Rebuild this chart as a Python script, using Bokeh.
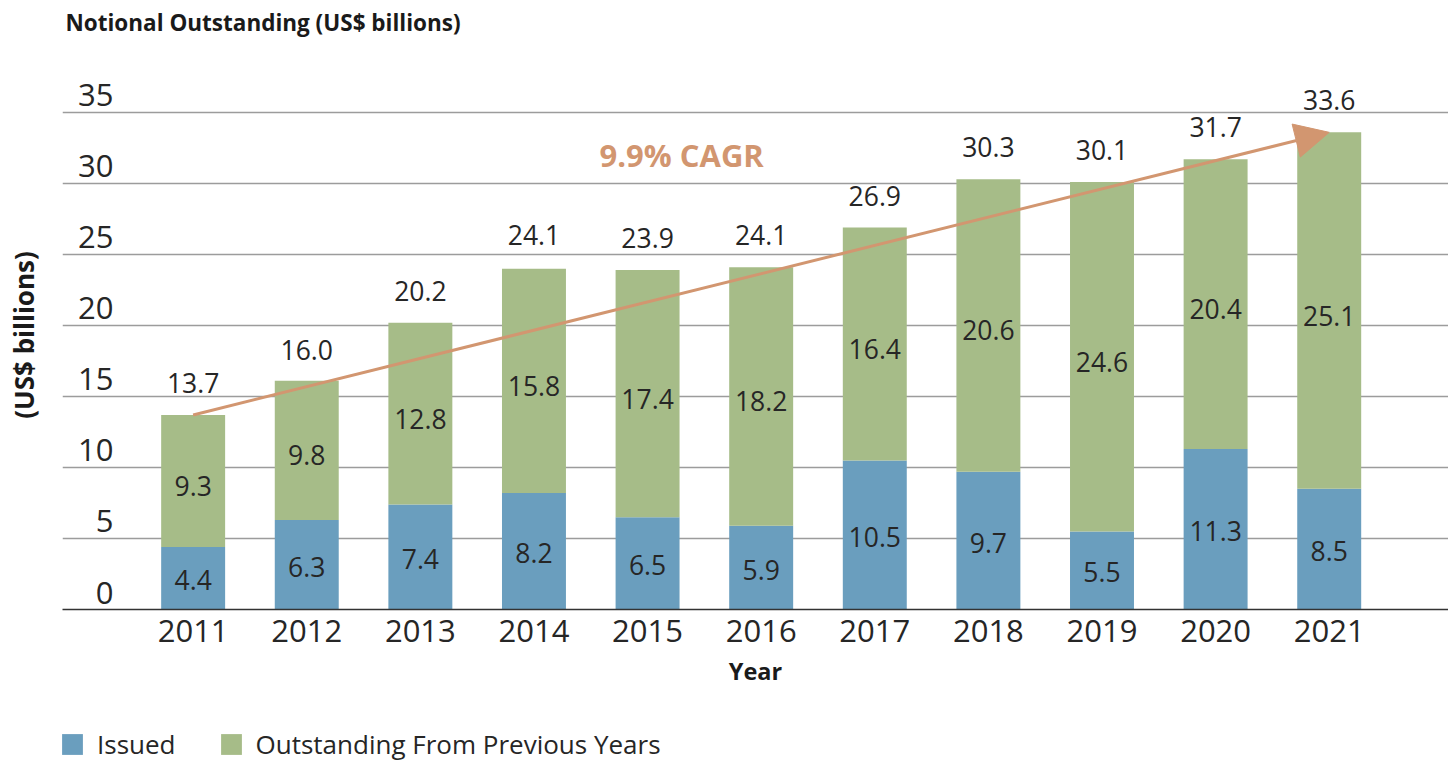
from bokeh.plotting import figure
from bokeh.layouts import column
from bokeh.models import (ColumnDataSource, Arrow, NormalHead, Legend, LegendItem,
                          FixedTicker, Range1d, Label)
from bokeh.core.properties import value
from bokeh.embed import file_html
from bokeh.resources import INLINE

# ---- data ----
years = [2011, 2012, 2013, 2014, 2015, 2016, 2017, 2018, 2019, 2020, 2021]
issued = [4.4, 6.3, 7.4, 8.2, 6.5, 5.9, 10.5, 9.7, 5.5, 11.3, 8.5]
outstanding = [9.3, 9.8, 12.8, 15.8, 17.4, 18.2, 16.4, 20.6, 24.6, 20.4, 25.1]
totals = [13.7, 16.0, 20.2, 24.1, 23.9, 24.1, 26.9, 30.3, 30.1, 31.7, 33.6]
y_ticks = [0, 5, 10, 15, 20, 25, 30, 35]
series_names = ["Issued", "Outstanding From Previous Years"]
title_text = "Notional Outstanding (US$ billions)"
cagr_text = "9.9% CAGR"

BLUE = "#6A9EBE"
GREEN = "#A6BC88"
ORANGE = "#D29670"
TXT = "#262626"
FONT = "Open Sans"

out_bottom = issued
out_top = [a + b for a, b in zip(issued, outstanding)]
src = ColumnDataSource(dict(
    x=years,
    issued=issued,
    out_bottom=out_bottom,
    out_top=out_top,
    issued_mid=[v / 2 for v in issued],
    out_mid=[(a + b) / 2 for a, b in zip(out_bottom, out_top)],
    issued_lbl=[f"{v:.1f}" for v in issued],
    out_lbl=[f"{v:.1f}" for v in outstanding],
    totals=totals,
    total_lbl=[f"{v:.1f}" for v in totals],
))


def strip(h):
    f = figure(width=1448, height=h, output_backend="svg", toolbar_location=None,
               x_range=Range1d(0, 1), y_range=Range1d(0, 1), x_axis_type=None,
               y_axis_type=None, title=None,
               min_border_left=0, min_border_right=0, min_border_top=0, min_border_bottom=0)
    f.outline_line_color = None
    f.xgrid.visible = False
    f.ygrid.visible = False
    return f


# ---- title strip ----
top = strip(44)
top.add_layout(Label(x=3, y=22, x_units="screen", y_units="screen", text=title_text,
                     text_align="left", text_baseline="middle", text_font=FONT,
                     text_font_size="22.5px", text_font_style="bold", text_color="#1a1a1a"))

# ---- main chart ----
x0, x1 = 2009.85, 2022.05
p = figure(width=1448, height=656, output_backend="svg", toolbar_location=None, title=None,
           x_range=Range1d(x0, x1), y_range=Range1d(0, 38.66),
           min_border_left=62, min_border_right=0, min_border_top=16, min_border_bottom=91)
p.outline_line_color = None
p.background_fill_color = "white"

# grid
p.xgrid.visible = False
p.ygrid.ticker = FixedTicker(ticks=y_ticks)
p.ygrid.grid_line_color = "#9c9c9c"
p.ygrid.grid_line_width = 1.5

# x axis
p.xaxis.ticker = FixedTicker(ticks=years)
p.xaxis.major_label_text_font = FONT
p.xaxis.major_label_text_font_size = "31px"
p.xaxis.major_label_text_color = TXT
p.xaxis.major_label_standoff = 4
p.xaxis.major_tick_line_color = None
p.xaxis.minor_tick_line_color = None
p.xaxis.axis_line_color = "#333333"
p.xaxis.axis_line_width = 1.5
p.xaxis.axis_label = "Year"
p.xaxis.axis_label_text_font = FONT
p.xaxis.axis_label_text_font_size = "23.5px"
p.xaxis.axis_label_text_font_style = "bold"
p.xaxis.axis_label_text_color = "#1a1a1a"
p.xaxis.axis_label_standoff = 10

# y axis (label only; tick labels drawn above grid lines)
p.yaxis.ticker = FixedTicker(ticks=[])
p.yaxis.axis_line_color = None
p.yaxis.major_tick_line_color = None
p.yaxis.minor_tick_line_color = None
p.yaxis.axis_label = "(US$ billions)"
p.yaxis.axis_label_text_font = FONT
p.yaxis.axis_label_text_font_size = "26px"
p.yaxis.axis_label_text_font_style = "bold"
p.yaxis.axis_label_text_color = "#1a1a1a"
p.yaxis.axis_label_standoff = 21

p.text(x=[x0] * len(y_ticks), y=y_ticks, text=[str(t) for t in y_ticks],
       x_offset=51, y_offset=-17, text_align="right", text_baseline="middle",
       text_font=value(FONT), text_font_size="31px", text_color=TXT)

# bars
bw = 0.563
p.vbar(x="x", bottom=0, top="issued", width=bw, source=src,
       fill_color=BLUE, line_color=None)
p.vbar(x="x", bottom="out_bottom", top="out_top", width=bw, source=src,
       fill_color=GREEN, line_color=None)

# segment labels
p.text(x="x", y="issued_mid", text="issued_lbl", source=src, text_align="center",
       y_offset=2, text_baseline="middle", text_font=value(FONT), text_font_size="26.5px",
       text_color=TXT)
p.text(x="x", y="out_mid", text="out_lbl", source=src, text_align="center",
       y_offset=5, text_baseline="middle", text_font=value(FONT), text_font_size="26.5px",
       text_color=TXT)
p.text(x="x", y="totals", text="total_lbl", source=src, text_align="center",
       text_baseline="middle", y_offset=-32, text_font=value(FONT),
       text_font_size="26.5px", text_color=TXT)

# CAGR arrow
p.add_layout(Arrow(end=NormalHead(size=34, fill_color=ORANGE, line_color=ORANGE),
                   x_start=years[0], y_start=totals[0], x_end=years[-1], y_end=totals[-1],
                   line_color=ORANGE, line_width=3))
p.add_layout(Label(x=2015.3, y=32.0, text=cagr_text, text_align="center",
                   text_baseline="middle", text_font=FONT, text_font_size="31px",
                   text_font_style="bold", text_color=ORANGE))

# ---- legend strip ----
lg = strip(62)
g1 = lg.vbar(x="x", top="issued", width=bw, source=src, fill_color=BLUE, line_color=None)
g2 = lg.vbar(x="x", bottom="out_bottom", top="out_top", width=bw, source=src,
             fill_color=GREEN, line_color=None)
legend = Legend(items=[LegendItem(label=series_names[0], renderers=[g1]),
                       LegendItem(label=series_names[1], renderers=[g2])],
                orientation="horizontal", location=(-3, 0),
                label_text_font=FONT, label_text_font_size="26px", label_text_color=TXT,
                glyph_width=26, glyph_height=26, label_standoff=12, spacing=42,
                padding=0, margin=0, border_line_color=None, background_fill_alpha=0,
                label_height=22)
lg.add_layout(legend, "center")

open("out.html", "w").write(file_html(column(top, p, lg, spacing=0), INLINE))
